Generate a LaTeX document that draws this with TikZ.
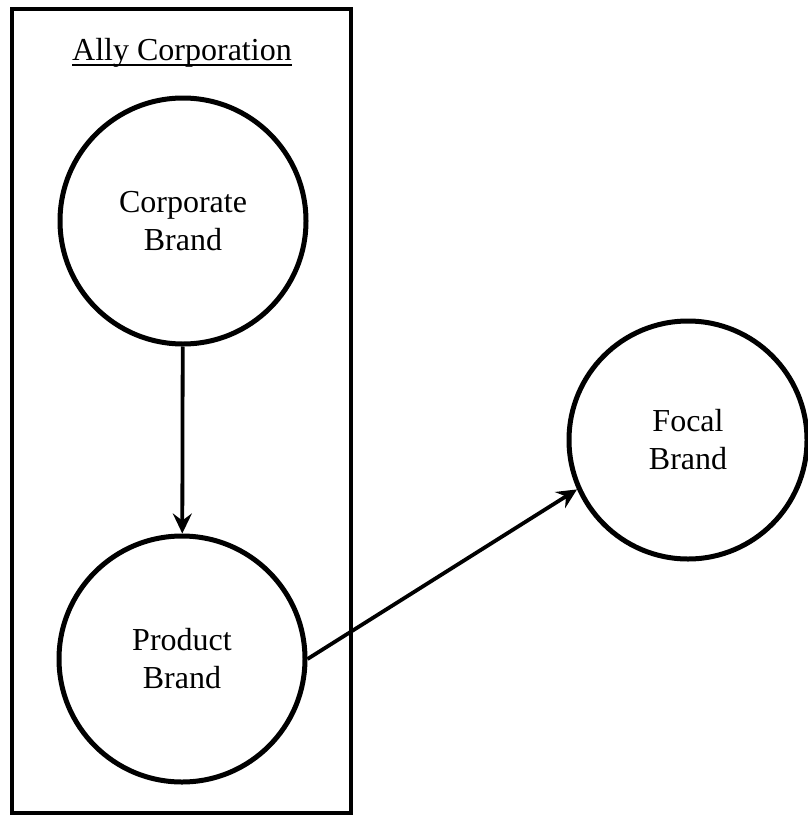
\documentclass[tikz,border=0pt]{standalone}
\usepackage{fontspec}
\setmainfont{Liberation Serif}
\usetikzlibrary{arrows.meta}
\begin{document}
\begin{tikzpicture}[x=1pt,y=-1pt,
  brand/.style={circle,draw,line width=5pt,minimum size=246pt,inner sep=0pt,
    align=center,font=\fontsize{32}{38}\selectfont},
  link/.style={line width=3.8pt,-{Stealth[length=20pt,width=19pt,inset=7pt]}},
  frame/.style={draw,line width=4.5pt}]
\useasboundingbox (0,0) rectangle (808,819);
\node[frame,minimum width=339pt,minimum height=804pt,inner sep=0pt] (ally) at (181.5,411) {};
\node[inner sep=0pt,anchor=base,font=\fontsize{32}{38}\selectfont] (title) at (182,60) {Ally Corporation};
\draw[line width=1.8pt] ([yshift=-5pt]title.base west) -- ([yshift=-5pt]title.base east);
\node[brand] (corp) at (183,221) {Corporate\\Brand};
\node[brand] (prod) at (182,659) {Product\\Brand};
\node[brand,minimum size=238pt] (focal) at (688,440) {Focal\\Brand};
\draw[link] (corp) -- (prod);
\draw[link] (prod.east) -- (focal.204);
\end{tikzpicture}
\end{document}
